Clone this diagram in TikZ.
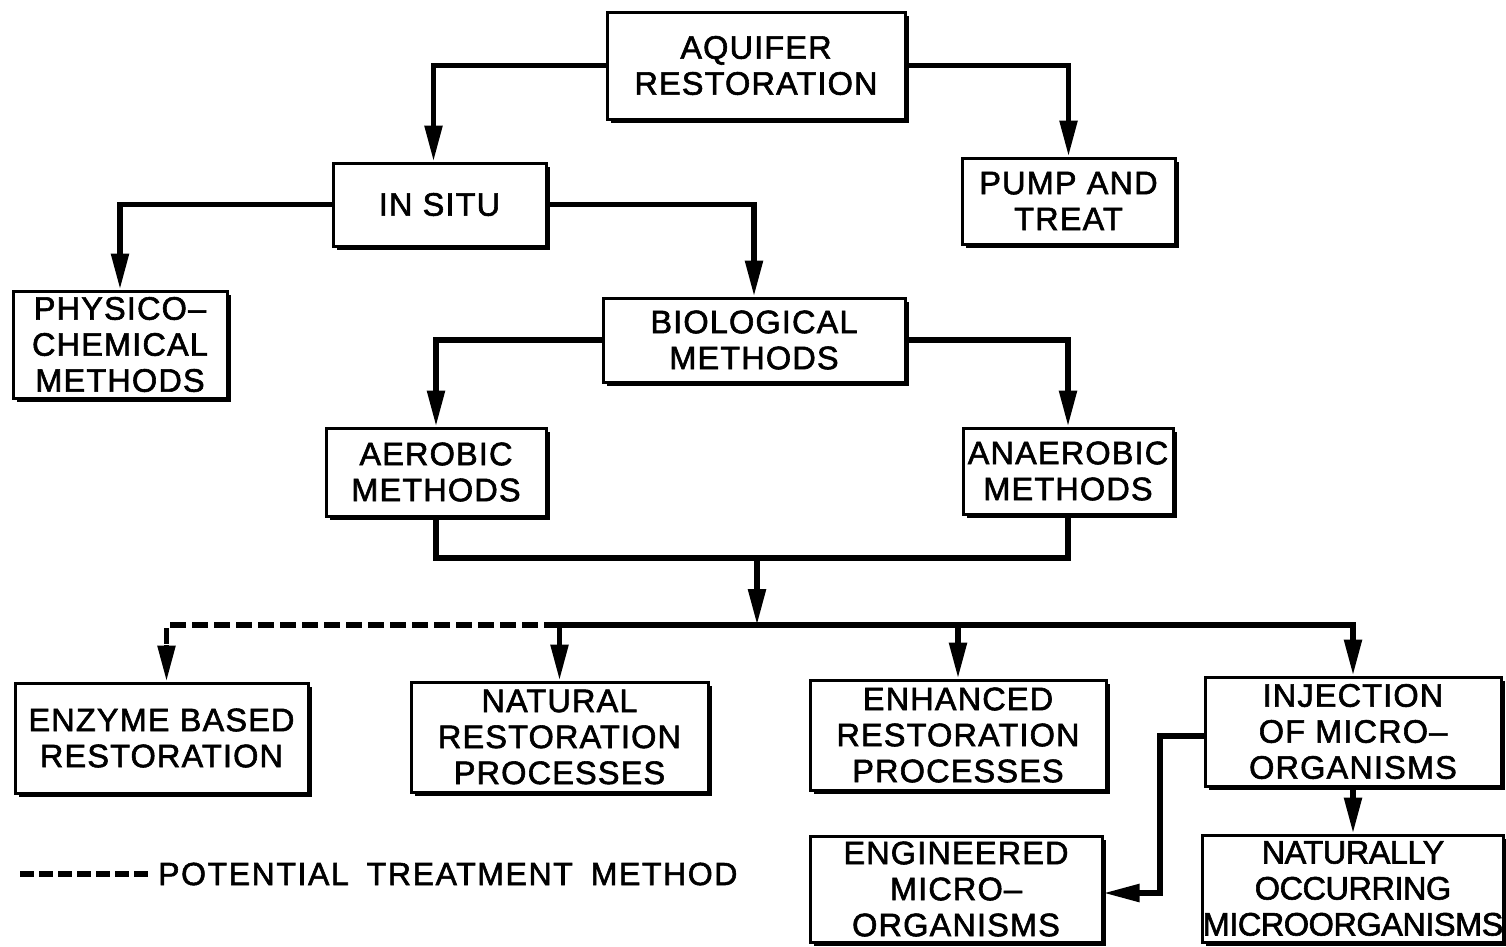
\documentclass[tikz,border=0pt]{standalone}
\usepackage{fontspec}
\setmainfont{Liberation Sans}
\newfontfamily\labfont[FakeBold=1.8, LetterSpace=3.5]{Liberation Sans}
\newfontfamily\tightfont[FakeBold=1.8, LetterSpace=-1.5]{Liberation Sans}
\newfontfamily\legfont[FakeBold=1.8, LetterSpace=5]{Liberation Sans}
\usetikzlibrary{arrows.meta,shadows}
\begin{document}
\begin{tikzpicture}[x=1pt,y=-1pt,
  box/.style={draw=black, line width=3pt, fill=white, align=center,
    inner sep=0pt, font=\labfont\fontsize{32.5}{36}\selectfont,
    drop shadow={shadow xshift=3.5pt, shadow yshift=-3.5pt, fill=black, opacity=1}},
  conn/.style={line width=5.5pt, line join=miter},
  arr/.style={conn, -{Triangle[length=36pt,width=17pt]}},
  dashline/.style={line width=5.5pt, dash pattern=on 16pt off 6pt},
  legtext/.style={font=\legfont\fontsize{32}{36}\selectfont, inner sep=0pt}]
\useasboundingbox (0,0) rectangle (1506,946);

\node[box, minimum width=298, minimum height=107] (aq) at (756,65.5) {AQUIFER\\RESTORATION};
\node[box, minimum width=213, minimum height=83] (insitu) at (439.5,204.5) {IN SITU};
\node[box, minimum width=213, minimum height=86] (pump) at (1068.5,201) {PUMP AND\\TREAT};
\node[box, minimum width=214, minimum height=107] (phys) at (120,344.5) {PHYSICO–\\CHEMICAL\\METHODS};
\node[box, minimum width=302, minimum height=84] (bio) at (754,340) {BIOLOGICAL\\METHODS};
\node[box, minimum width=220, minimum height=88] (aer) at (436,472) {AEROBIC\\METHODS};
\node[box, minimum width=210, minimum height=86] (anaer) at (1068,471) {ANAEROBIC\\METHODS};
\node[box, minimum width=293, minimum height=110] (enz) at (161.5,738) {ENZYME BASED\\RESTORATION};
\node[box, minimum width=297, minimum height=110] (nat) at (559.5,737) {NATURAL\\RESTORATION\\PROCESSES};
\node[box, minimum width=296, minimum height=110] (enh) at (958,735) {ENHANCED\\RESTORATION\\PROCESSES};
\node[box, minimum width=296, minimum height=109] (inj) at (1353,731.5) {INJECTION\\OF MICRO–\\ORGANISMS};
\node[box, minimum width=292, minimum height=106] (eng) at (956,889) {ENGINEERED\\MICRO–\\ORGANISMS};
\node[box, minimum width=296, minimum height=107, font=\tightfont\fontsize{32.5}{36}\selectfont] (natocc) at (1353,888.5) {NATURALLY\\OCCURRING\\MICROORGANISMS};

\coordinate (merge) at (757,558);
\coordinate (bus) at (757,625);
\coordinate (ibend) at (1160,736);

\draw[arr] (aq.west) -| ([xshift=-6pt]insitu.north);
\draw[arr] (aq.east) -| (pump.north);
\draw[arr] (insitu.west) -| (phys.north);
\draw[arr] (insitu.east) -| (bio.north);
\draw[arr] (bio.west) -| (aer.north);
\draw[arr] (bio.east) -| (anaer.north);
\draw[conn] (aer.south) |- (merge) -| (anaer.south);
\draw[arr] (merge) -- (bus);
\draw[arr] (nat.north |- bus) -| (inj.north);
\draw[arr] (nat.north |- bus) -- (nat.north);
\draw[arr] (enh.north |- bus) -- (enh.north);
\draw[dashline] (nat.north |- bus) -| ([xshift=5pt]enz.north |- 0,650);
\draw[arr] ([xshift=5pt]enz.north |- 0,645) -- ([xshift=5pt]enz.north);
\draw[arr] (inj.west |- ibend) -- (ibend) |- ([yshift=-4pt]eng.east);
\draw[arr] (inj.south) -- (natocc.north);

\coordinate (l1) at (20,874);
\coordinate (l2) at (152,874);
\draw[dashline, dash pattern=on 14pt off 5pt] (l1) -- (l2);
\node[legtext, anchor=west] (leg) at (158,874) {POTENTIAL\hspace{18pt}TREATMENT\hspace{18pt}METHOD};
\end{tikzpicture}
\end{document}
